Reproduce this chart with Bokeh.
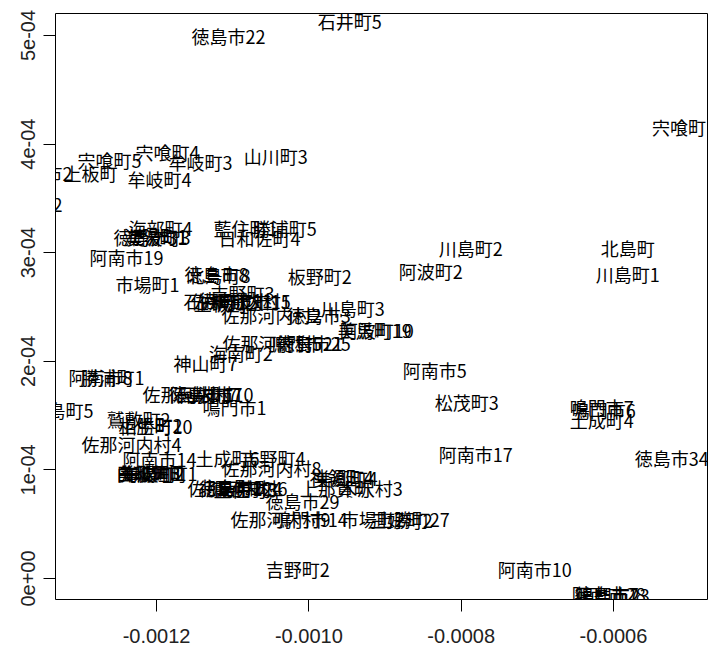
from bokeh.plotting import figure
from bokeh.models import ColumnDataSource, Range1d, FixedTicker
from bokeh.core.properties import value
from bokeh.embed import file_html
from bokeh.resources import INLINE

labels = [
    "徳島市22", "石井町5", "宍喰町4", "宍喰町5", "牟岐町3", "山川町3", "牟岐町4", "上板町",
    "阿南市2", "松茂町2", "海部町4", "徳島市31", "海陽町1", "美波町3", "藍住町1", "勝浦町5",
    "日和佐町4", "阿南市19", "市場町1", "徳島市8", "北島町8", "板野町2",
    "吉野町3", "佐那河内村1", "石井町1", "上板町2", "阿波市15", "徳島市11",
    "川島町3", "佐那河内村2", "徳島市3", "美馬町19", "阿波町10",
    "佐那河内村5", "徳島市25", "鳴門市21", "海南町2", "神山町7", "阿南市5", "松茂町3",
    "鳴門市7", "鳴門市6", "土成町4", "阿南市17", "徳島市34", "阿南市10",
    "阿南市28", "鳴門市23", "徳島市7", "宍喰町1", "川島町2", "阿波町2", "北島町", "川島町1",
    "勝浦町1", "阿南市8", "佐那河内村7", "阿波市10", "石井町7", "徳島市1", "鳴門市1",
    "北島町5", "鷲敷町2", "上勝町2", "相生町10", "佐那河内村4", "阿南市14", "土成町6",
    "吉野町4", "佐那河内村8", "由岐町3", "美波町1", "海陽町2", "牟岐町1", "日和佐町1",
    "佐那河内村6", "徳島市12", "藍住町3", "石井町4", "北島町2", "神領町4", "美郷町4",
    "上那賀町", "木沢村3", "徳島市29", "佐那河内村9", "鳴門市14", "市場町2", "上勝町27",
    "三好町2", "吉野町2",
]

x_vals = [
    -1.1054e-3, -0.9464e-3, -1.1855e-3, -1.2618e-3, -1.1422e-3, -1.0436e-3, -1.1961e-3, -1.2867e-3,
    -1.3524e-3, -1.3656e-3, -1.1947e-3, -1.2079e-3, -1.2013e-3, -1.1974e-3, -1.0831e-3, -1.0318e-3,
    -1.0647e-3, -1.2394e-3, -1.2118e-3, -1.1212e-3, -1.1185e-3, -0.9858e-3,
    -1.0870e-3, -1.0896e-3, -1.1225e-3, -1.1093e-3, -1.0725e-3, -1.0962e-3,
    -0.9424e-3, -1.0489e-3, -0.9871e-3, -0.9135e-3, -0.9109e-3,
    -1.0476e-3, -0.9937e-3, -1.0042e-3, -1.0896e-3, -1.1356e-3, -0.8347e-3, -0.7927e-3,
    -0.6153e-3, -0.6126e-3, -0.6153e-3, -0.7808e-3, -0.5233e-3, -0.7033e-3,
    -0.6061e-3, -0.6008e-3, -0.6087e-3, -0.5075e-3, -0.7874e-3, -0.8400e-3, -0.5811e-3, -0.5811e-3,
    -1.2578e-3, -1.2736e-3, -1.1527e-3, -1.1212e-3, -1.1356e-3, -1.1422e-3, -1.0975e-3,
    -1.3248e-3, -1.2237e-3, -1.2079e-3, -1.2013e-3, -1.2329e-3, -1.1961e-3, -1.1067e-3,
    -1.0463e-3, -1.0489e-3, -1.2105e-3, -1.2079e-3, -1.2053e-3, -1.2026e-3, -1.2000e-3,
    -1.0936e-3, -1.0962e-3, -1.0831e-3, -1.0765e-3, -1.1028e-3, -0.9569e-3, -0.9517e-3,
    -0.9648e-3, -0.9188e-3, -1.0082e-3, -1.0371e-3, -0.9976e-3, -0.9162e-3, -0.8636e-3,
    -0.8794e-3, -1.0147e-3,
]

y_vals = [
    4.991e-4, 5.138e-4, 3.923e-4, 3.849e-4, 3.831e-4, 3.886e-4, 3.683e-4, 3.738e-4,
    3.738e-4, 3.444e-4, 3.223e-4, 3.140e-4, 3.158e-4, 3.140e-4, 3.232e-4, 3.232e-4,
    3.131e-4, 2.965e-4, 2.716e-4, 2.808e-4, 2.799e-4, 2.790e-4,
    2.633e-4, 2.551e-4, 2.551e-4, 2.541e-4, 2.551e-4, 2.560e-4,
    2.495e-4, 2.422e-4, 2.422e-4, 2.284e-4, 2.284e-4,
    2.173e-4, 2.173e-4, 2.173e-4, 2.072e-4, 1.980e-4, 1.924e-4, 1.621e-4,
    1.575e-4, 1.556e-4, 1.455e-4, 1.142e-4, 1.105e-4, 0.092e-4,
    -0.147e-4, -0.150e-4, -0.144e-4, 4.153e-4, 3.039e-4, 2.836e-4, 3.039e-4, 2.808e-4,
    1.851e-4, 1.860e-4, 1.703e-4, 1.703e-4, 1.703e-4, 1.703e-4, 1.575e-4,
    1.547e-4, 1.473e-4, 1.409e-4, 1.400e-4, 1.243e-4, 1.096e-4, 1.105e-4,
    1.105e-4, 1.013e-4, 0.976e-4, 0.976e-4, 0.976e-4, 0.976e-4, 0.976e-4,
    0.829e-4, 0.829e-4, 0.820e-4, 0.829e-4, 0.838e-4, 0.939e-4, 0.921e-4,
    0.829e-4, 0.829e-4, 0.718e-4, 0.552e-4, 0.552e-4, 0.552e-4, 0.552e-4,
    0.543e-4, 0.083e-4,
]

x_ticks = [-0.0012, -0.0010, -0.0008, -0.0006]
x_tick_labels = ["-0.0012", "-0.0010", "-0.0008", "-0.0006"]
y_ticks = [0.0, 0.0001, 0.0002, 0.0003, 0.0004, 0.0005]
y_tick_labels = ["0e+00", "1e-04", "2e-04", "3e-04", "4e-04", "5e-04"]

source = ColumnDataSource(data=dict(x=x_vals, y=y_vals, text=labels))

p = figure(
    width=713, height=648,
    x_range=Range1d(-0.0013327, -0.0004765),
    y_range=Range1d(-1.934e-5, 5.2026e-4),
    output_backend="svg", toolbar_location=None,
    min_border_left=55, min_border_top=13, min_border_right=6, min_border_bottom=49,
)
p.background_fill_color = "white"
p.border_fill_color = "white"
p.outline_line_color = "black"
p.outline_line_width = 1
p.outline_line_alpha = 1.0
p.xgrid.visible = False
p.ygrid.visible = False

p.text(x="x", y="y", text="text", source=source,
       text_font=value("Noto Sans CJK JP"), text_font_size="18px",
       text_align="center", text_baseline="middle", text_color="black")

for ax in (p.xaxis[0], p.yaxis[0]):
    ax.axis_line_color = None
    ax.major_tick_line_color = "black"
    ax.major_tick_out = 12
    ax.major_tick_in = 0
    ax.minor_tick_line_color = None
    ax.major_label_text_font = "Liberation Sans"
    ax.major_label_text_font_size = "20px"
    ax.major_label_text_color = "#222222"

p.xaxis.ticker = FixedTicker(ticks=x_ticks)
p.xaxis.major_label_overrides = {t: s for t, s in zip(x_ticks, x_tick_labels)}
p.xaxis.major_label_standoff = 17

p.yaxis.ticker = FixedTicker(ticks=y_ticks)
p.yaxis.major_label_overrides = {t: s for t, s in zip(y_ticks, y_tick_labels)}
p.yaxis.major_label_orientation = "vertical"
p.yaxis.major_label_standoff = 8

open("out.html", "w").write(file_html(p, INLINE))
